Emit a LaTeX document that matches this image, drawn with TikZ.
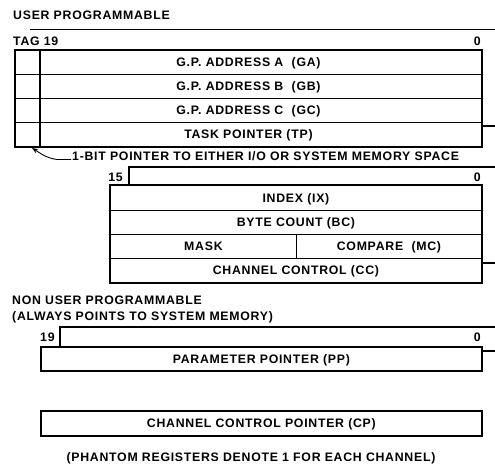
\documentclass[tikz,border=0pt]{standalone}
\usepackage{fontspec}
\setmainfont{Liberation Sans}[LetterSpace=6]
\usetikzlibrary{arrows.meta}
\newcommand\lblfont{\fontsize{12.3}{14}\selectfont\bfseries}
\begin{document}
\begin{tikzpicture}[x=1pt,y=-1pt]
\tikzset{
  row/.style={draw, line width=0.9pt, inner sep=0, anchor=north west, font=\lblfont,
              minimum height=24pt, text height=8.8pt, text depth=0pt},
  frame/.style={line width=1.7pt},
  phantom/.style={line width=1.4pt},
  lbl/.style={inner sep=0, anchor=west, font=\lblfont, text height=8.8pt, text depth=0pt},
  ptr/.style={-{Stealth[length=6pt,width=4.5pt]}, line width=0.9pt}
}
\useasboundingbox (0,0) rectangle (495,475);

% ---------- block 1 ----------
\node[lbl] (user) at (13,15) {USER PROGRAMMABLE};
\draw[phantom] (30,29.5) -- (495,29.5);
\node[lbl] (tag) at (13,41) {TAG 19};
\node[lbl, anchor=east] (z1) at (481,41) {0};
\node[row, minimum width=466pt] (ga) at (15,50) {G.P. ADDRESS A\ \ (GA)};
\node[row, minimum width=466pt] (gb) at (15,74) {G.P. ADDRESS B\ \ (GB)};
\node[row, minimum width=466pt] (gc) at (15,98) {G.P. ADDRESS C\ \ (GC)};
\node[row, minimum width=466pt] (tp) at (15,122) {TASK POINTER (TP)};
\draw[line width=1.2pt] (40,50) -- (40,146);
\draw[frame] (ga.north west) rectangle (tp.south east);
\draw[phantom] (481,126) -- (495,126);

\node[lbl] (bit) at (72,156) {1-BIT POINTER TO EITHER I/O OR SYSTEM MEMORY SPACE};
\coordinate (tagpt) at (32,148);
\draw[ptr] ([xshift=-1pt,yshift=-3.5pt]bit.west) -- ++(-14,0) .. controls (46,158) and (40,153) .. (tagpt);

% ---------- block 2 ----------
\draw[phantom] (129,185) -- (129,167) -- (495,167);
\node[lbl, anchor=east] (n15) at (123,177) {15};
\node[lbl, anchor=east] (z2) at (481,177) {0};
\node[row, minimum width=371pt, minimum height=24.5pt] (ix) at (110,185) {INDEX (IX)};
\node[row, minimum width=371pt, minimum height=24.5pt] (bc) at (110,209.5) {BYTE COUNT (BC)};
\node[row, minimum width=186pt] (mask) at (110,234) {MASK};
\node[row, minimum width=185pt] (mc) at (296,234) {COMPARE\ \ (MC)};
\node[row, minimum width=371pt] (cc) at (110,258) {CHANNEL CONTROL (CC)};
\draw[frame] (ix.north west) rectangle (cc.south east);
\draw[phantom] (481,263) -- (495,263);

% ---------- block 3 ----------
\node[lbl] (non) at (12,300) {NON USER PROGRAMMABLE};
\node[lbl] (always) at (12,316) {(ALWAYS POINTS TO SYSTEM MEMORY)};
\draw[phantom] (60,346) -- (60,327) -- (495,327);
\node[lbl] (n19) at (40,337) {19};
\node[lbl, anchor=east] (z3) at (481,337) {0};
\node[row, frame, minimum width=441pt] (pp) at (40,346) {PARAMETER POINTER (PP)};
\draw[phantom] (481,351) -- (495,351);
\node[row, frame, minimum width=441pt, minimum height=25pt] (cp) at (40,410) {CHANNEL CONTROL POINTER (CP)};

\node[lbl, anchor=center] (foot) at (251,457) {(PHANTOM REGISTERS DENOTE 1 FOR EACH CHANNEL)};
\end{tikzpicture}
\end{document}
